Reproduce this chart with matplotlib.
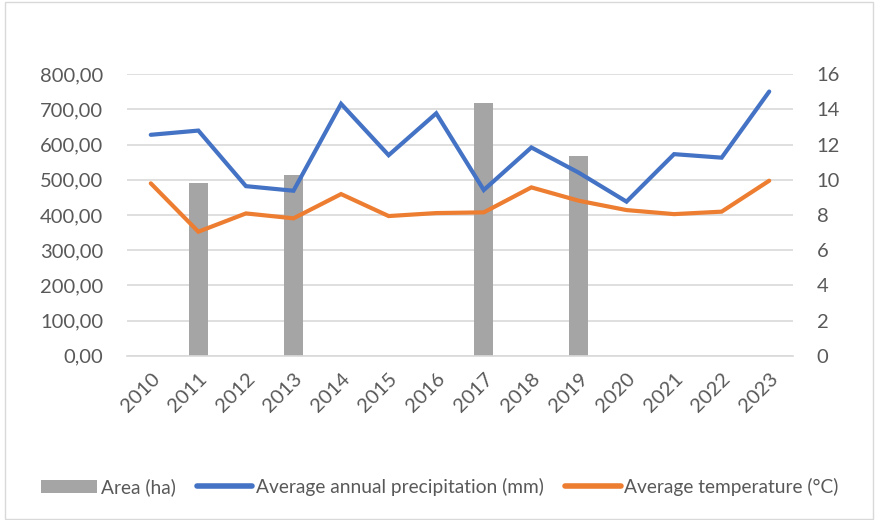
import matplotlib
matplotlib.use("Agg")
import matplotlib.pyplot as plt
import numpy as np
from matplotlib.patches import Rectangle

plt.rcParams["font.family"] = ["Lato", "DejaVu Sans"]

years = [str(y) for y in range(2010, 2024)]
# Area only exists for some years; None = no bar
area_ha = [None, 492, None, 513, None, None, None, 719, None, 568, None, None, None, None]
precip_mm = [628, 640, 482, 469, 716, 570, 689, 471, 592, 520, 438, 573, 563, 751]
temp_c = [9.80, 7.05, 8.09, 7.81, 9.19, 7.94, 8.11, 8.15, 9.57, 8.81, 8.28, 8.05, 8.19, 9.95]

GRAY = "#A5A5A5"
BLUE = "#4472C4"
ORANGE = "#ED7D31"
TEXT = "#595959"
GRID = "#D9D9D9"

fig = plt.figure(figsize=(8.8, 5.2), dpi=100)
fig.patches.append(Rectangle((5 / 880, 1 / 520), 868 / 880, 517 / 520,
                             transform=fig.transFigure, fill=False,
                             edgecolor=GRID, linewidth=1))

ax = fig.add_axes([127 / 880, 1 - 355.7 / 520, 666 / 880, 281.4 / 520])
ax2 = ax.twinx()

x = np.arange(len(years))
bar_x = [i for i, v in enumerate(area_ha) if v is not None]
bar_h = [v for v in area_ha if v is not None]
bars = ax.bar(bar_x, bar_h, width=0.4, color=GRAY, zorder=2, label="Area (ha)")
l1, = ax.plot(x, precip_mm, color=BLUE, lw=3, solid_capstyle="round",
              solid_joinstyle="miter", zorder=3,
              label="Average annual precipitation (mm)")
l2, = ax2.plot(x, temp_c, color=ORANGE, lw=3, solid_capstyle="round",
               solid_joinstyle="miter", zorder=3,
               label="Average temperature (°C)")

ax.set_xlim(-0.5, len(years) - 0.5)
ax.set_ylim(0, 800)
ax2.set_ylim(0, 16)
ax.set_yticks(np.arange(0, 801, 100))
ax.set_yticklabels([f"{v},00" for v in range(0, 801, 100)])
ax2.set_yticks(np.arange(0, 17, 2))

ax.set_xticks(x)
ax.set_xticklabels(years, rotation=45, ha="right", rotation_mode="anchor")

ax.yaxis.grid(True, color=GRID, lw=1.2, zorder=0)
ax.set_axisbelow(True)
for a in (ax, ax2):
    for s in a.spines.values():
        s.set_visible(False)
    a.tick_params(length=0, labelsize=14.5, labelcolor=TEXT)
ax.spines["bottom"].set_visible(True)
ax.spines["bottom"].set_color(GRID)
ax.spines["bottom"].set_linewidth(1.2)
ax.tick_params(axis="y", pad=17)
ax2.tick_params(axis="y", pad=17)
ax.tick_params(axis="x", pad=10)

leg = fig.legend(handles=[bars, l1, l2], loc="center", ncol=3,
                 bbox_to_anchor=(0.5, 1 - 487 / 520), frameon=False,
                 fontsize=13.8, handlelength=2.9, handletextpad=0.2,
                 columnspacing=1.1, labelcolor=TEXT)
for h in leg.legend_handles[1:]:
    h.set_linewidth(4)
    h.set_solid_capstyle("round")

fig.savefig("out.png", dpi=100)
